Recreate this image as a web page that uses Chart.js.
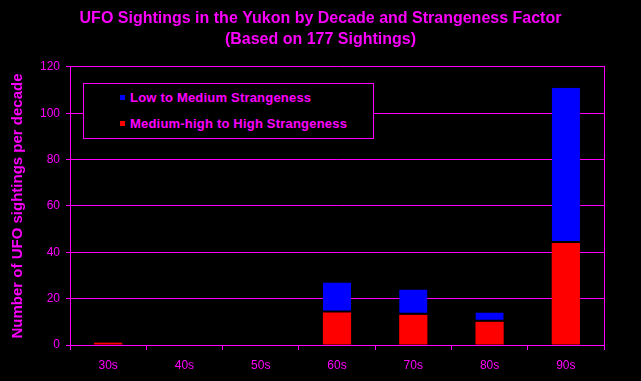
<!DOCTYPE html>
<html>
<head>
<meta charset="utf-8">
<script src="https://cdn.jsdelivr.net/npm/chart.js@4"></script>
<style>
  body { margin: 0; background: #000; }
  #wrap { position: relative; width: 641px; height: 381px; }
  #legend {
    position: absolute; left: 83px; top: 83px; width: 289px; height: 54px;
    border: 1px solid #ff00ff; background: #000;
    font: bold 13px 'Liberation Sans', Arial, sans-serif; letter-spacing: 0.2px; color: #ff00ff;
  }
  .item { position: absolute; left: 36px; height: 14px; line-height: 14px; white-space: nowrap; }
  .sw { position: absolute; left: 0; top: 4px; width: 5px; height: 5px; }
  .item span.txt { position: absolute; left: 10px; top: 0; }
</style>
</head>
<body>
<div id="wrap">
  <canvas id="chart" width="641" height="381"></canvas>
  <div id="legend"></div>
</div>
<script>
// Data
const decades = ['30s', '40s', '50s', '60s', '70s', '80s', '90s'];
const highStrange = [1, 0, 0, 14, 13, 10, 44];
const lowStrange = [null, null, null, 13, 11, 4, 67];
const seriesNames = ['Medium-high to High Strangeness', 'Low to Medium Strangeness'];
const titleLines = ['UFO Sightings in the Yukon by Decade and Strangeness Factor', '(Based on 177 Sightings)'];
const yTitle = 'Number of UFO sightings per decade';

const MAG = '#ff00ff';
const FONT = "'Liberation Sans', Arial, sans-serif";

const ctx = document.getElementById('chart').getContext('2d');
const chart = new Chart(ctx, {
    type: 'bar',
    data: {
        labels: decades,
        datasets: [{
            label: seriesNames[0],
            data: highStrange,
            backgroundColor: '#ff0000',
            borderWidth: 0,
            barPercentage: 0.37,
            categoryPercentage: 1
        }, {
            label: seriesNames[1],
            data: lowStrange,
            backgroundColor: '#0000ff',
            borderColor: '#000000',
            borderWidth: {top: 0, left: 0, right: 0, bottom: 2},
            borderSkipped: false,
            barPercentage: 0.37,
            categoryPercentage: 1
        }]
    },
    options: {
        responsive: false,
        animation: false,
        layout: { padding: 0 },
        plugins: {
            legend: { display: false },
            tooltip: { enabled: false },
            title: {
                display: true,
                text: titleLines,
                color: MAG,
                font: { family: FONT, size: 16, weight: 'bold', lineHeight: 1.31 },
                padding: { top: 8, bottom: 17 }
            }
        },
        scales: {
            x: {
                stacked: true,
                afterFit: s => { s.height = 36; },
                grid: { drawOnChartArea: false, color: MAG, tickLength: 5, offset: true },
                border: { color: MAG },
                ticks: { color: MAG, font: { family: FONT, size: 12 }, padding: 8 }
            },
            y: {
                stacked: true,
                min: 0,
                max: 120,
                afterFit: s => { s.width = 70; },
                ticks: { stepSize: 20, color: MAG, font: { family: FONT, size: 12 }, padding: 6 },
                grid: { color: MAG, tickLength: 4 },
                border: { color: MAG },
                title: {
                    display: true,
                    text: yTitle,
                    color: MAG,
                    font: { family: FONT, size: 15, weight: 'bold' },
                    padding: { top: 9, bottom: 0 }
                }
            },
            y2: {
                position: 'right',
                min: 0,
                max: 120,
                afterFit: s => { s.width = 37; },
                ticks: { display: false },
                grid: { drawOnChartArea: false, drawTicks: false },
                border: { color: MAG }
            }
        }
    }
});

// legend box inside the plot, blue series listed first
const legend = document.getElementById('legend');
const order = [1, 0];
order.forEach((di, row) => {
    const ds = chart.data.datasets[di];
    const item = document.createElement('div');
    item.className = 'item';
    item.style.top = (row === 0 ? 7 : 33) + 'px';
    const sw = document.createElement('div');
    sw.className = 'sw';
    sw.style.background = ds.backgroundColor;
    const txt = document.createElement('span');
    txt.className = 'txt';
    txt.textContent = ds.label;
    item.appendChild(sw);
    item.appendChild(txt);
    legend.appendChild(item);
});
</script>
</body>
</html>
